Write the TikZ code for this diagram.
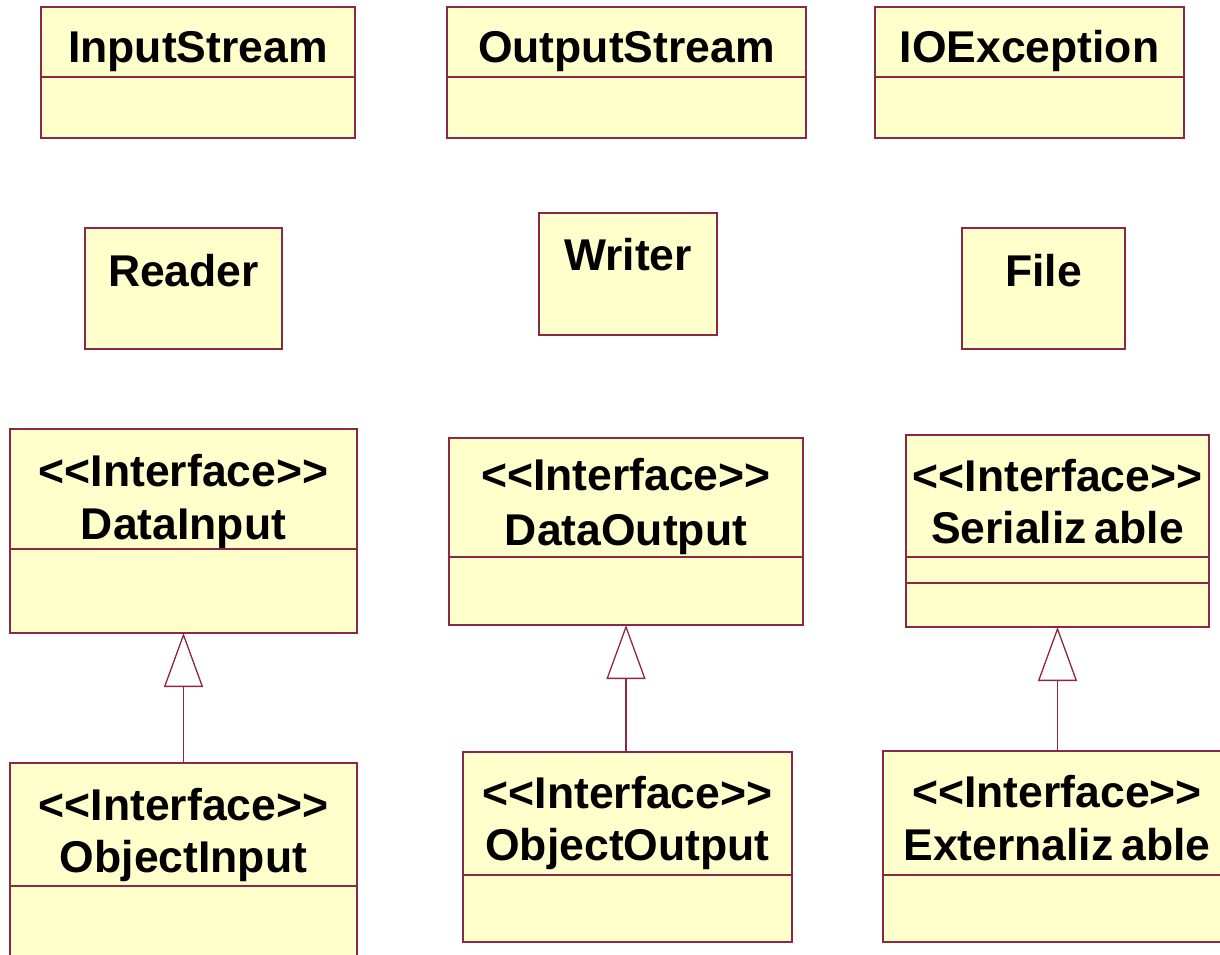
\documentclass[tikz,border=0pt]{standalone}
\usepackage{fontspec}
\setmainfont{Liberation Sans}[Ligatures=TeXOff]
\usetikzlibrary{arrows.meta}

\definecolor{clsfill}{RGB}{255,255,204}
\definecolor{clsline}{RGB}{140,40,70}

\tikzset{
  cls/.style={draw=clsline, fill=clsfill, line width=1.3pt, rectangle,
              inner sep=0pt, outer sep=0pt},
  title/.style={anchor=base, inner sep=0pt,
                font=\fontsize{44.5}{48}\selectfont\bfseries},
  divider/.style={draw=clsline, line width=1.3pt},
  inherit/.style={draw=clsline, line width=1.3pt,
                  -{Triangle[length=54pt, width=39pt, fill=white]}},
}

\begin{document}
\begin{tikzpicture}[x=1pt, y=-1pt]
\useasboundingbox (0,0) rectangle (1220,955);
\clip (0,0) rectangle (1220,955);

% ---- top row: plain classes with an empty compartment
\node[cls, minimum width=314pt, minimum height=131pt] (instream) at (198,72.5) {};
\node[title] (instreamT) at (198,63) {InputStream};
\draw[divider] (instream.west |- 0,77) -- (instream.east |- 0,77);

\node[cls, minimum width=359pt, minimum height=131pt] (outstream) at (626.5,72.5) {};
\node[title] (outstreamT) at (626.5,63) {OutputStream};
\draw[divider] (outstream.west |- 0,77) -- (outstream.east |- 0,77);

\node[cls, minimum width=309pt, minimum height=131pt] (ioex) at (1029.5,72.5) {};
\node[title] (ioexT) at (1029.5,63) {IOException};
\draw[divider] (ioex.west |- 0,77) -- (ioex.east |- 0,77);

% ---- middle row: single-compartment classes
\node[cls, minimum width=197pt, minimum height=121pt] (reader) at (183.5,288.5) {};
\node[title] (readerT) at (183.5,286) {Reader};

\node[cls, minimum width=178pt, minimum height=122pt] (writer) at (628,274) {};
\node[title] (writerT) at (628,270) {Writer};

\node[cls, minimum width=163pt, minimum height=121pt] (file) at (1043.5,288.5) {};
\node[title] (fileT) at (1043.5,286) {File};

% ---- interfaces
\node[cls, minimum width=347pt, minimum height=204pt] (datain) at (183.5,531) {};
\node[title] (datainS) at (183.5,486) {<<Interface>>};
\node[title] (datainT) at (183.5,539) {DataInput};
\draw[divider] (datain.west |- 0,549) -- (datain.east |- 0,549);

\node[cls, minimum width=354pt, minimum height=187pt] (dataout) at (626,531.5) {};
\node[title] (dataoutS) at (626,490) {<<Interface>>};
\node[title] (dataoutT) at (626,545) {DataOutput};
\draw[divider] (dataout.west |- 0,557) -- (dataout.east |- 0,557);

\node[cls, minimum width=303pt, minimum height=192pt] (ser) at (1057.5,531) {};
\node[title] (serS) at (1057.5,491) {<<Interface>>};
\node[title] (serT) at (1057.5,543) {Serializ\hspace{0.18em}able};
\draw[divider] (ser.west |- 0,557) -- (ser.east |- 0,557);
\draw[divider] (ser.west |- 0,583) -- (ser.east |- 0,583);

% ---- sub-interfaces
\node[cls, minimum width=347pt, minimum height=207pt] (objin) at (183.5,866.5) {};
\node[title] (objinS) at (183.5,820) {<<Interface>>};
\node[title] (objinT) at (183.5,872) {ObjectInput};
\draw[divider] (objin.west |- 0,886) -- (objin.east |- 0,886);

\node[cls, minimum width=329pt, minimum height=190pt] (objout) at (627.5,847) {};
\node[title] (objoutS) at (627.5,808) {<<Interface>>};
\node[title] (objoutT) at (627.5,860) {ObjectOutput};
\draw[divider] (objout.west |- 0,875) -- (objout.east |- 0,875);

\node[cls, minimum width=348pt, minimum height=191pt] (ext) at (1057,846.5) {};
\node[title] (extS) at (1057,807) {<<Interface>>};
\node[title] (extT) at (1057,860) {Externaliz\hspace{0.18em}able};
\draw[divider] (ext.west |- 0,875) -- (ext.east |- 0,875);

% ---- generalisation arrows
\draw[inherit] (objin.north) -- (datain.south);
\draw[inherit] (dataout.south |- objout.north) -- (dataout.south);
\draw[inherit] (ser.south |- ext.north) -- (ser.south);
\end{tikzpicture}
\end{document}
